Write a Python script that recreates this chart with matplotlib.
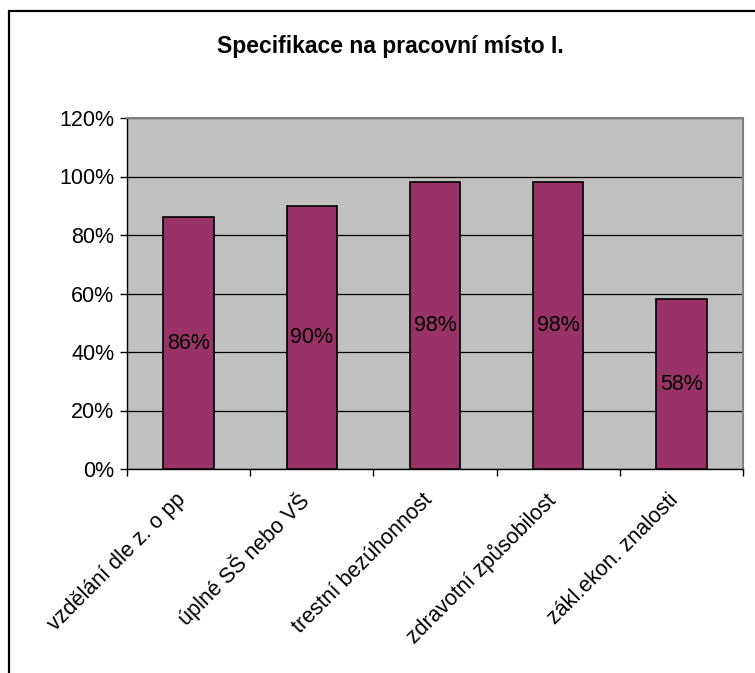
import matplotlib.pyplot as plt
from matplotlib.patches import Rectangle
from matplotlib.ticker import FixedLocator, FuncFormatter
from matplotlib.transforms import ScaledTranslation
import numpy as np

plt.rcParams['font.family'] = ['Liberation Sans', 'DejaVu Sans']

categories = ["vzdělání dle z. o pp", "úplné SŠ nebo VŠ", "trestní bezúhonnost",
              "zdravotní způsobilost", "zákl.ekon. znalosti"]
shares = [86, 90, 98, 98, 58]
y_ticks = [0, 20, 40, 60, 80, 100, 120]
title = "Specifikace na pracovní místo I."

W, H = 755, 673
FS = 15.5
fig = plt.figure(figsize=(W / 100, H / 100), dpi=100)

# outer chart frame, running off the right and bottom edges
fig.patches.append(Rectangle((9 / W, -0.02), 1.1, 1 - 11 / H + 0.02,
                             transform=fig.transFigure, fill=False,
                             edgecolor='black', linewidth=1.6))

ax = fig.add_axes([127 / W, 1 - 469 / H, (743 - 127) / W, (469 - 118) / H])
ax.set_facecolor('#C0C0C0')

x = np.arange(len(categories))
bars = ax.bar(x, shares, width=0.41, color='#993366', edgecolor='black',
              linewidth=1.2, zorder=3)
for b, v in zip(bars, shares):
    ax.text(b.get_x() + b.get_width() / 2, v / 2, f"{v}%", ha='center',
            va='center', fontsize=FS, zorder=4)

ax.set_xlim(-0.5, len(categories) - 0.5)
ax.set_ylim(0, 120)
ax.set_yticks(y_ticks)
ax.yaxis.set_major_formatter(FuncFormatter(lambda v, p: f"{v:.0f}%"))
ax.tick_params(axis='y', labelsize=FS, length=5, width=1, direction='out', pad=4)
ax.grid(axis='y', color='black', linewidth=0.9, zorder=1)

# category labels at centres, tick marks at the boundaries
ax.set_xticks(x)
ax.set_xticklabels(categories, rotation=45, ha='right', va='center',
                   rotation_mode='anchor', fontsize=FS)
ax.tick_params(axis='x', which='major', length=0, pad=20)
shift = ScaledTranslation(-6 / 100, 0, fig.dpi_scale_trans)
for lbl in ax.get_xticklabels():
    lbl.set_transform(lbl.get_transform() + shift)
ax.xaxis.set_minor_locator(FixedLocator(np.arange(-0.5, len(categories), 1)))
ax.tick_params(axis='x', which='minor', length=5, width=1, direction='out')

for side in ('left', 'bottom'):
    ax.spines[side].set_color('black')
    ax.spines[side].set_linewidth(1)
for side in ('top', 'right'):
    ax.spines[side].set_color('#808080')
    ax.spines[side].set_linewidth(1.5)

fig.text(390 / W, 1 - 47 / H, title, ha='center', va='center',
         fontsize=16.5, fontweight='bold')

fig.savefig('out.png', dpi=100)
